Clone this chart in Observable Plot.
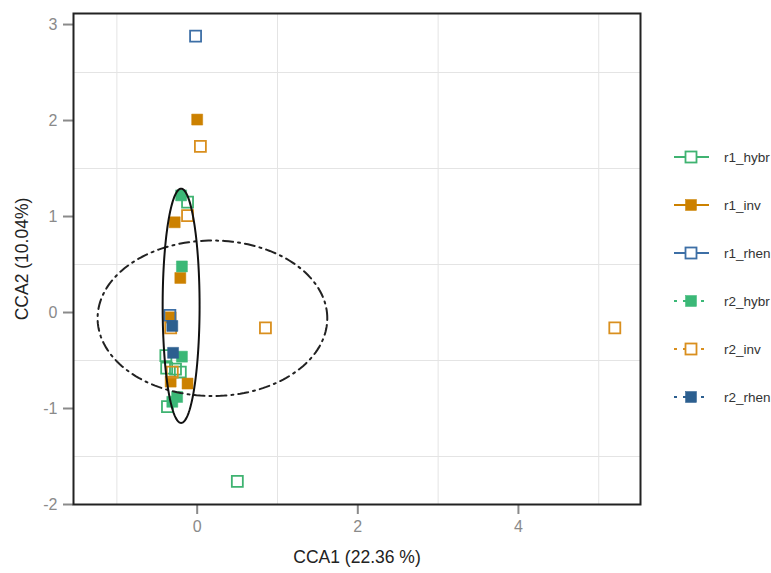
<!DOCTYPE html>
<html>
<head>
<meta charset="utf-8">
<script src="https://cdn.jsdelivr.net/npm/d3@7"></script>
<script src="https://cdn.jsdelivr.net/npm/@observablehq/plot@0.6"></script>
<style>
  html, body { margin: 0; padding: 0; background: #fff; }
  #wrap { position: relative; width: 771px; height: 573px; font-family: "Liberation Sans", Arial, sans-serif; }
  #legend { position: absolute; left: 640px; top: 0; }
</style>
</head>
<body>
<div id="wrap"><div id="chart"></div><div id="legend"></div></div>
<script>
// ---- data ----
const seriesNames = ["r1_hybr", "r1_inv", "r1_rhen", "r2_hybr", "r2_inv", "r2_rhen"];
const seriesColors = ["#3fb371", "#cc8100", "#3d6fa6", "#3bb877", "#d98f1e", "#2c5f8f"];
const seriesFilled = [false, true, false, true, false, true];
const seriesDashed = [false, false, false, true, true, true];

const r1_hybr = [[-0.12, 1.15], [-0.39, -0.45], [-0.38, -0.58], [-0.27, -0.59], [-0.21, -0.62], [-0.37, -0.98], [0.50, -1.76]];
const r1_inv  = [[0.00, 2.01], [-0.28, 0.94], [-0.21, 0.36], [-0.33, -0.05], [-0.33, -0.72], [-0.12, -0.74]];
const r1_rhen = [[-0.02, 2.88], [-0.34, -0.03]];
const r2_hybr = [[-0.20, 1.22], [-0.19, 0.48], [-0.19, -0.46], [-0.25, -0.88], [-0.31, -0.93]];
const r2_inv  = [[0.04, 1.73], [-0.12, 1.01], [-0.33, -0.16], [-0.31, -0.62], [0.85, -0.16], [5.20, -0.16]];
const r2_rhen = [[-0.31, -0.14], [-0.30, -0.42]];
const seriesData = [r1_hybr, r1_inv, r1_rhen, r2_hybr, r2_inv, r2_rhen];

// ellipses: [cx, cy, rx, ry]
const ellipseSolid = [-0.20, 0.07, 0.23, 1.22];
const ellipseDashDot = [0.19, -0.06, 1.43, 0.81];

const xTicks = [0, 2, 4];
const yTicks = [-2, -1, 0, 1, 2, 3];
const xMinor = [-1, 1, 3, 5];
const yMinor = [-1.5, -0.5, 0.5, 1.5, 2.5];
const xLabel = "CCA1 (22.36 %)";
const yLabel = "CCA2 (10.04%)";

// ---- helpers ----
function ellipsePoints([cx, cy, rx, ry]) {
  return d3.range(0, 361, 2).map(a => {
    const t = a * Math.PI / 180;
    return {x: cx + rx * Math.cos(t), y: cy + ry * Math.sin(t)};
  });
}
const fmt = d => String(d);

const marks = [
  Plot.gridX(xMinor, {stroke: "#e4e4e4", strokeOpacity: 1}),
  Plot.gridY(yMinor, {stroke: "#e4e4e4", strokeOpacity: 1}),
  Plot.axisX(xTicks, {tickSize: 10, tickPadding: 6, tickFormat: fmt, stroke: "#8a8a8a", fill: "#8a8a8a", fontSize: 16, label: null, strokeWidth: 2}),
  Plot.axisY(yTicks, {tickSize: 10, tickPadding: 6, tickFormat: fmt, stroke: "#8a8a8a", fill: "#8a8a8a", fontSize: 16, label: null, strokeWidth: 2})
];
seriesData.forEach((pts, i) => {
  marks.push(Plot.dot(pts, {
    x: d => d[0], y: d => d[1], symbol: "square", r: 6.2,
    fill: seriesFilled[i] ? seriesColors[i] : "none",
    stroke: seriesColors[i], strokeWidth: seriesFilled[i] ? 0.5 : 1.8
  }));
});
marks.push(
  Plot.line(ellipsePoints(ellipseDashDot), {x: "x", y: "y", stroke: "#222", strokeWidth: 2, strokeDasharray: "10 5 2 5"}),
  Plot.line(ellipsePoints(ellipseSolid), {x: "x", y: "y", stroke: "#111", strokeWidth: 2}),
  Plot.frame({stroke: "#222", strokeWidth: 2}),
  Plot.text([xLabel], {frameAnchor: "bottom", dy: 58, fontSize: 17.5, fill: "#222", textAnchor: "middle"}),
  Plot.text([yLabel], {frameAnchor: "left", dx: -51, rotate: -90, fontSize: 17.5, fill: "#222", textAnchor: "middle"})
);

const chart = Plot.plot({
  width: 771, height: 573,
  marginLeft: 73, marginRight: 131, marginTop: 13, marginBottom: 69,
  x: {domain: [-1.54, 5.52]},
  y: {domain: [-2, 3.115]},
  style: {fontFamily: "Liberation Sans, Arial, sans-serif", background: "#fff"},
  marks
});
document.getElementById("chart").appendChild(chart);

// ---- legend ----
const leg = d3.select("#legend").append("svg").attr("width", 131).attr("height", 573)
  .style("font-family", "Liberation Sans, Arial, sans-serif");
seriesNames.forEach((name, i) => {
  const cy = 157 + i * 48;
  const g = leg.append("g");
  g.append("line").attr("x1", 34).attr("x2", 69).attr("y1", cy).attr("y2", cy)
    .attr("stroke", seriesColors[i]).attr("stroke-width", 2)
    .attr("stroke-dasharray", seriesDashed[i] ? "3 6" : null);
  g.append("rect").attr("x", 51 - 5.5).attr("y", cy - 5.5).attr("width", 11).attr("height", 11)
    .attr("fill", seriesFilled[i] ? seriesColors[i] : "#fff")
    .attr("stroke", seriesColors[i]).attr("stroke-width", seriesFilled[i] ? 0.5 : 1.8);
  g.append("text").attr("x", 84).attr("y", cy).attr("dy", "0.35em")
    .attr("font-size", 13.5).attr("fill", "#333").text(name);
});
</script>
</body>
</html>
